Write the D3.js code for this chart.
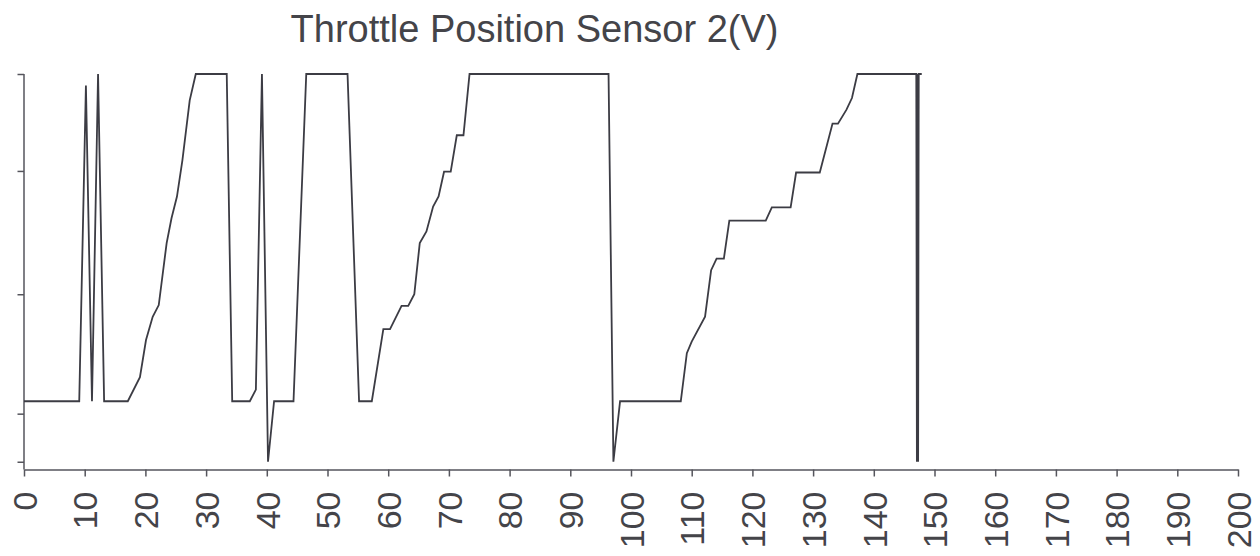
<!DOCTYPE html>
<html>
<head>
<meta charset="utf-8">
<script src="https://cdn.jsdelivr.net/npm/d3@7"></script>
<style>
  html, body { margin: 0; padding: 0; background: #fff; }
  svg { display: block; }
</style>
</head>
<body>
<svg id="chart" width="1260" height="556"></svg>
<script>
const title = "Throttle Position Sensor 2(V)";
const xTicks = [0,10,20,30,40,50,60,70,80,90,100,110,120,130,140,150,160,170,180,190,200];
const yTicks = [0, 0.62, 2.16, 3.75, 5];
const timeValues = [
  0, 9.1, 10.2, 11.2, 12.2, 13.2, 17.1, 19.1, 20.1, 21.2, 22.2, 23.5, 24.3, 25.2, 26.1, 27.3, 28.3,
  33.4, 34.3, 37.2, 38.2, 39.2, 40.2, 41.2, 44.4, 46.5, 53.3, 55.2, 57.3, 59.2, 60.3, 62.2, 63.3,
  64.3, 65.2, 66.3, 67.4, 68.3, 69.2, 70.3, 71.3, 72.4, 73.4, 96.3, 97.1, 98.2, 108.2, 109.2,
  110.0, 112.2, 113.2, 114.1, 115.3, 116.2, 122.2, 123.2, 126.3, 127.2, 131.1, 133.2, 134.1,
  135.5, 136.4, 137.3, 147.0, 147.1, 147.2, 147.3, 147.4, 147.9
];
const voltValues = [
  0.78, 0.78, 4.85, 0.78, 5.0, 0.78, 0.78, 1.09, 1.57, 1.87, 2.02, 2.82, 3.14, 3.42, 3.89, 4.66, 5.0,
  5.0, 0.78, 0.78, 0.93, 5.0, 0.0, 0.78, 0.78, 5.0, 5.0, 0.78, 0.78, 1.71, 1.71, 2.01, 2.01,
  2.16, 2.82, 2.97, 3.29, 3.42, 3.74, 3.74, 4.21, 4.21, 5.0, 5.0, 0.0, 0.78, 0.78, 1.40,
  1.55, 1.87, 2.47, 2.62, 2.62, 3.11, 3.11, 3.28, 3.28, 3.73, 3.73, 4.36, 4.36,
  4.54, 4.69, 5.0, 5.0, 0.0, 5.0, 0.0, 5.0, 5.0
];

const data = timeValues.map((t, i) => ({ t, v: voltValues[i] }));

const svg = d3.select("#chart");
const ink = "#3c3c44";
const axisInk = "#55555c";

const x = d3.scaleLinear().domain([0, 200]).range([24, 1238]);
const y = d3.scaleLinear().domain([-0.1, 5]).range([469.5, 74]);

// Title
svg.append("text")
  .attr("x", 534.5)
  .attr("y", 41.5)
  .attr("text-anchor", "middle")
  .attr("font-family", "Liberation Sans, Arial, sans-serif")
  .attr("font-size", 38)
  .attr("fill", "#444449")
  .text(title);

// Y axis (no labels)
const yAxis = svg.append("g")
  .attr("transform", `translate(${x(0)},0)`)
  .call(d3.axisLeft(y).tickValues(yTicks).tickFormat("").tickSize(6.5).tickSizeOuter(0));
yAxis.select(".domain").attr("stroke", axisInk).attr("stroke-width", 1.5)
  .attr("d", `M0,${y(5)}V${y(-0.1)}`);
yAxis.selectAll(".tick line").attr("stroke", axisInk).attr("stroke-width", 1.5);

// X axis
const xAxis = svg.append("g")
  .attr("transform", `translate(0,${y(-0.1)})`)
  .call(d3.axisBottom(x).tickValues(xTicks).tickSize(7).tickSizeOuter(0).tickFormat(d3.format("d")));
xAxis.select(".domain").attr("stroke", axisInk).attr("stroke-width", 1.5);
xAxis.selectAll(".tick line").attr("stroke", axisInk).attr("stroke-width", 1.5);
xAxis.selectAll(".tick text")
  .attr("transform", "rotate(-90)")
  .attr("x", -22)
  .attr("y", 0)
  .attr("dy", "0.36em")
  .attr("text-anchor", "end")
  .attr("font-family", "Liberation Sans, Arial, sans-serif")
  .attr("font-size", 34)
  .attr("fill", "#444449");

// Line
const line = d3.line().x(d => x(d.t)).y(d => y(d.v));
svg.append("path")
  .datum(data)
  .attr("d", line)
  .attr("fill", "none")
  .attr("stroke", ink)
  .attr("stroke-width", 1.8)
  .attr("stroke-linejoin", "miter");
</script>
</body>
</html>
